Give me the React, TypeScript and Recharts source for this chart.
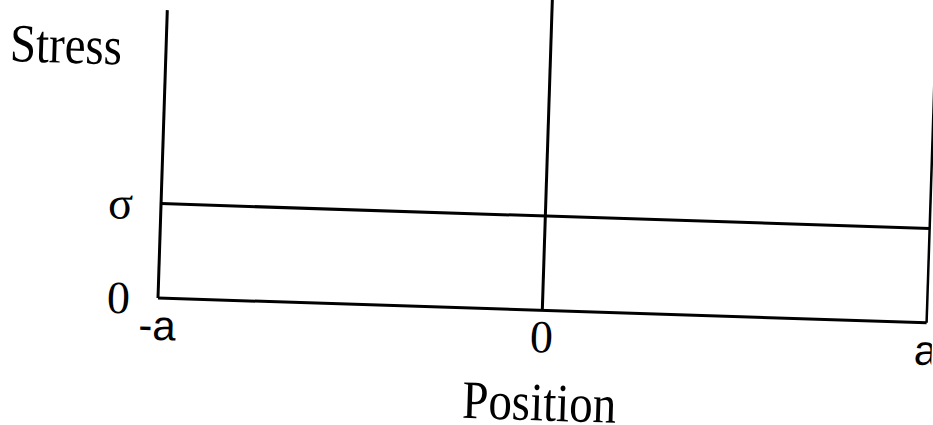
import { LineChart, Line, XAxis, YAxis, ReferenceLine } from 'recharts';

// stress is flat at sigma across the whole span -a..a
const positions = [-1, 1];
const stress = [1, 1];

const xTicks = [-1, 0, 1];
const xTickLabels = ['-a', '0', 'a'];
const yTicks = [0, 1];
const yTickLabels = ['0', 'σ'];

const yMax = 3.05;
const centerLineTop = 3.4;
const edgeLineTop = 2.79;

const data = positions.map((x, i) => ({ x, stress: stress[i] }));

const SERIF = '"Liberation Serif", "Times New Roman", serif';
const SANS = '"Liberation Sans", Arial, sans-serif';

const XTick = ({ x, y, payload }: any) => {
  const label = xTickLabels[xTicks.indexOf(payload.value)];
  const sans = label !== '0';
  return (
    <text
      x={x}
      y={y + 32}
      textAnchor="middle"
      fontFamily={sans ? SANS : SERIF}
      fontSize={sans ? 42 : 46}
      fill="#000"
    >
      {label}
    </text>
  );
};

const YTick = ({ x, y, payload }: any) => {
  const label = yTickLabels[yTicks.indexOf(payload.value)];
  return (
    <text x={x} y={y} dy="0.355em" textAnchor="end" fontFamily={SERIF} fontSize={46} fill="#000">
      {label}
    </text>
  );
};

const StressLabel = ({ viewBox }: any) => (
  <text
    transform={`translate(${viewBox.x + 58},${viewBox.y + 56}) scale(1,1.15)`}
    textAnchor="middle"
    fontFamily={SERIF}
    fontSize={47}
    fill="#000"
  >
    Stress
  </text>
);

const PositionLabel = ({ viewBox }: any) => (
  <text
    transform={`translate(${viewBox.x + viewBox.width / 2},${viewBox.y + 110}) scale(1,1.15)`}
    textAnchor="middle"
    fontFamily={SERIF}
    fontSize={47}
    fill="#000"
  >
    Position
  </text>
);

export default function App() {
  return (
    <div style={{ position: 'fixed', left: 0, top: 0, width: 933, height: 425, overflow: 'hidden', background: '#fff' }}>
      {/* the scan is tilted a little clockwise */}
      <div
        style={{
          position: 'absolute',
          left: 0,
          top: -30,
          transform: 'rotate(1.85deg)',
          transformOrigin: '158px 328px',
        }}
      >
        <LineChart width={933} height={455} data={data} margin={{ top: 40, right: 6, bottom: 0, left: 0 }}>
          <XAxis
            type="number"
            dataKey="x"
            domain={[-1, 1]}
            ticks={xTicks}
            tickLine={false}
            tickSize={0}
            tickMargin={10}
            tick={<XTick />}
            axisLine={{ stroke: '#000', strokeWidth: 3 }}
            height={127}
            interval={0}
            label={<PositionLabel />}
          />
          <YAxis
            type="number"
            domain={[0, yMax]}
            ticks={yTicks}
            tickLine={false}
            tickSize={0}
            tickMargin={28}
            tick={<YTick />}
            axisLine={{ stroke: '#000', strokeWidth: 3 }}
            width={158}
            interval={0}
            label={<StressLabel />}
          />
          <ReferenceLine
            segment={[{ x: 0, y: 0 }, { x: 0, y: centerLineTop }]}
            stroke="#000"
            strokeWidth={3}
            ifOverflow="visible"
          />
          <ReferenceLine
            segment={[{ x: 1, y: 0 }, { x: 1, y: edgeLineTop }]}
            stroke="#000"
            strokeWidth={2.5}
            ifOverflow="visible"
          />
          <Line
            dataKey="stress"
            type="linear"
            stroke="#000"
            strokeWidth={3}
            dot={false}
            isAnimationActive={false}
          />
        </LineChart>
      </div>
    </div>
  );
}
